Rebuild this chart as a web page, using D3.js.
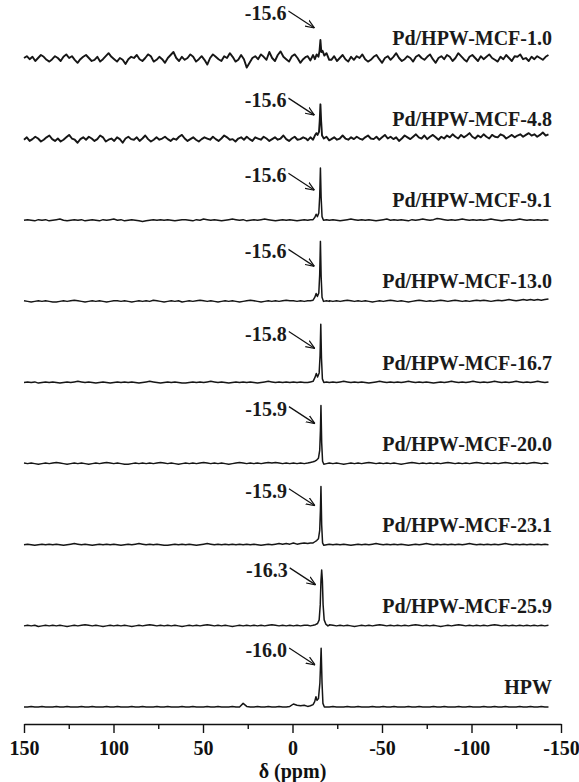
<!DOCTYPE html>
<html>
<head>
<meta charset="utf-8">
<script src="https://cdn.jsdelivr.net/npm/d3@7"></script>
<style>
  html, body { margin: 0; padding: 0; background: #fff; }
  svg { display: block; font-family: "Liberation Serif", "Times New Roman", serif; font-weight: bold; }
</style>
</head>
<body>
<svg id="chart" width="579" height="782"></svg>
<script>
// ---- data -------------------------------------------------------------
const sampleNames = [
  "Pd/HPW-MCF-1.0", "Pd/HPW-MCF-4.8", "Pd/HPW-MCF-9.1", "Pd/HPW-MCF-13.0",
  "Pd/HPW-MCF-16.7", "Pd/HPW-MCF-20.0", "Pd/HPW-MCF-23.1", "Pd/HPW-MCF-25.9", "HPW"
];
// chemical shift of the main 31P line of each sample (ppm)
const peakShifts = [-15.6, -15.6, -15.6, -15.6, -15.8, -15.9, -15.9, -16.3, -16.0];

const majorTicks = [150, 100, 50, 0, -50, -100, -150];
const minorTicks = [125, 75, 25, -25, -75, -125];

// baseline intensity (a.u.), sampled evenly from 150 to -143 ppm
const base1 = [0,3,-2,2,-5,0,5,2,-3,-6,-2,3,0,-5,2,6,0,3,-3,-8,
  -2,2,5,0,-5,-3,2,-6,-2,3,8,2,-2,-6,0,-3,-10,-2,2,0,
  5,-2,-5,0,6,3,-6,-3,2,-2,-8,0,5,10,0,-5,2,-3,0,6,
  2,-6,-2,3,-3,-11,0,6,2,-2,-5,3,0,8,2,-6,-3,5,-2,-16,
  -8,0,3,-2,6,2,-3,10,0,-5,5,11,2,-2,-6,3,6,0,-8,-2,
  2,5,-3,0,-10,-2,2,6,0,-3,3,-5,0,5,-2,-6,2,-3,3,0,
  6,-2,-6,-3,2,5,-2,-8,0,3,-3,2,8,0,-5,-2,3,0,-6,2,
  5,0,-3,2,6,-2,-8,0,3,-2,5,2,-5,0,8,3,-2,-6,2,5,
  0,-5,3,-2,2,6,0,-3,-6,2,-2,5,0,-5,3,2,6,-2,0,-5,
  2,-2,3,0,-3,2,5];
const base2 = [-1,3,-3,0,4,1,-4,-1,3,6,0,-3,1,-4,-1,3,7,1,-1,-6,
  0,3,-1,4,1,-3,0,6,3,-4,-1,1,-3,3,0,-6,1,4,0,-1,
  3,-3,1,6,0,-4,-1,3,-1,1,4,0,-3,1,-1,4,7,1,-3,0,
  3,-1,-4,0,3,1,-1,4,0,-3,1,6,3,-1,0,-4,1,3,-1,4,
  0,-3,3,1,-1,4,1,-3,0,3,-1,1,6,0,-3,1,4,-1,0,3,
  1,-1,4,7,3,0,-3,1,4,0,3,-1,1,6,1,-1,3,0,4,1,
  -1,3,6,1,0,4,-1,3,7,1,4,0,3,-3,1,6,3,0,4,8,
  3,1,6,0,4,7,3,-1,4,1,6,3,8,4,1,7,3,6,10,4,
  1,6,3,8,4,1,7,4,3,8,6,1,4,7,3,6,8,4,7,10,
  6,8,4,7,11,6,8];
const base3 = [0,1,0,-1,1,0,1,-1,0,1,2,0,-1,0,1,0,1,-1,0,1,
  0,-1,1,0,1,2,0,1,-1,0,1,0,-1,-2,-1,0,1,0,1,0,
  1,0,-1,0,1,1,0,-1,1,0,2,1,0,1,0,-1,0,1,2,1,
  0,1,-1,0,1,0,1,2,1,0,-1,0,1,0,1,0,-1,0,1,0,
  1,0,1,2,1,0,1,0,-1,0,1,2,1,0,1,0,1,0,-1,0,
  1,2,0,1,0,1,0,-1,1,0,1,2,1,0,1,3,2,1,0,1,
  0,1,2,1,0,1,0,1,0,1,2,1,0,-1,0,1,0,1,2,1,
  0,1,0,1,0,1,0];
const base4 = [1,0,-1,0,1,0,1,0,-1,-1,0,1,0,1,2,1,0,-1,0,1,
  0,1,0,-1,0,1,1,0,1,0,-1,0,1,0,1,0,2,1,0,-1,
  0,1,0,1,-1,0,1,0,1,2,1,0,1,0,-1,0,1,0,1,0,
  -1,0,1,2,1,0,-1,0,1,0,1,0,1,2,1,1,0,1,0,1,
  0,1,0,-1,0,1,0,1,0,1,2,1,0,1,0,1,0,-1,0,1,
  0,1,2,1,0,1,0,-1,0,1,2,1,0,1,0,1,2,1,0,1,
  2,1,0,1,0,1,2,1,2,1,0,1,2,1,2,3,2,1,2,3,
  2,3,2,3,2,3,4];
const base5 = [0,1,0,1,-1,0,1,0,1,0,-1,0,1,0,1,2,1,0,1,0,
  -1,0,1,0,-1,0,1,0,1,0,1,0,-1,0,1,2,1,0,-1,0,
  1,0,1,0,-1,-1,0,1,0,1,0,1,2,1,0,1,0,-1,0,1,
  0,1,0,1,0,-1,0,1,2,1,0,1,0,1,0,1,0,1,0,0,
  1,0,1,0,-1,0,1,0,1,2,1,0,1,0,1,0,-1,0,1,2,
  1,0,1,0,1,0,1,2,1,0,1,0,1,0,-1,0,1,0,1,2,
  1,0,1,0,1,2,1,0,1,0,1,2,1,0,1,0,1,2,1,0,
  1,0,1,2,1,0,1];
const base6 = [1,0,1,0,-1,0,1,0,1,2,1,0,-1,0,1,0,1,0,-1,0,
  1,0,1,2,1,0,1,0,-1,-1,0,1,0,1,0,1,0,1,2,1,
  0,1,0,-1,0,1,0,1,0,1,2,1,0,1,0,1,0,-1,0,1,
  2,1,0,1,0,1,0,1,2,1,2,1,0,1,0,1,0,1,0,1,
  0,1,0,1,2,1,0,1,0,-1,0,1,0,1,0,1,2,1,0,1,
  0,1,0,1,0,-1,0,1,2,1,0,1,0,1,0,1,0,1,2,1,
  0,1,0,1,0,1,2,1,0,1,0,1,0,1,2,1,0,1,0,1,
  0,1,2,1,0,1,0];
const base7 = [0,1,0,-1,0,1,0,1,0,1,0,-1,0,1,2,1,0,1,0,-1,
  0,1,0,1,0,1,0,-1,0,1,0,1,2,1,0,1,0,1,0,-1,
  -1,0,1,0,1,0,1,0,-1,0,1,2,1,0,1,0,1,0,1,0,
  1,0,1,0,1,0,-1,0,1,0,1,2,1,2,1,3,1,2,3,1,
  0,1,0,1,2,1,0,1,0,1,0,-1,0,1,0,1,0,1,2,1,
  0,1,0,1,0,1,0,-1,0,1,0,1,2,1,0,1,0,1,0,1,
  0,1,0,1,2,1,0,1,0,1,0,1,0,1,2,1,0,1,0,1,
  0,1,0,1,0,1,0];
const base8 = [0,1,0,1,-1,0,1,0,1,0,1,0,-1,0,1,0,1,2,1,0,
  1,0,-1,0,1,0,1,0,1,0,-1,0,1,0,1,2,1,0,1,0,
  1,0,1,0,-1,0,1,0,1,0,1,2,1,0,1,0,1,0,-1,0,
  1,0,1,0,1,0,1,0,1,2,1,0,1,0,1,0,1,0,1,0,
  1,0,1,0,1,2,1,0,1,0,1,0,-1,0,1,0,1,0,1,2,
  1,0,1,0,1,0,1,0,1,2,1,0,1,0,1,0,-1,0,1,0,
  1,2,1,0,1,0,1,0,1,0,1,2,1,0,1,0,1,0,1,0,
  1,0,1,0,1,0,1];
const base9 = [0,0,1,0,0,1,0,0,0,1,0,0,1,0,0,0,1,0,0,1,
  0,0,0,1,0,0,1,0,0,0,1,0,0,1,0,0,0,1,0,0,
  1,0,0,0,1,0,0,1,0,0,0,1,0,0,1,0,0,0,1,0,
  0,6,1,0,0,1,0,0,1,0,0,1,0,0,1,5,3,2,3,2,
  1,0,0,1,0,0,1,0,0,0,1,0,0,1,0,0,0,1,0,0,
  1,0,0,1,0,0,0,1,0,0,1,0,0,0,1,0,0,1,0,0,
  0,1,0,0,1,0,0,0,1,0,0,1,0,0,1,0,0,0,1,0,
  0,1,0,0,1,0,0];

// resonance region of each sample: [ppm, intensity]
const line1 = [[-8.5,3],[-10,-4],[-11.5,5],[-12.5,-2],[-13.5,6],[-14.5,2],[-15.1,12],[-15.6,30],[-16.1,10],[-16.8,12],[-17.8,4],[-19,8],[-20.5,-3]];
const line2 = [[-8.5,-2],[-10,3],[-11.5,-1],[-12.5,6],[-13.3,10],[-14,7],[-14.8,12],[-15.2,30],[-15.6,58],[-16,30],[-16.5,6],[-17.5,1],[-19,4],[-20.5,-2]];
const line3 = [[-8.5,0],[-10,1],[-11.5,1],[-12.5,5],[-13.2,10],[-13.9,6],[-14.7,12],[-15.2,40],[-15.6,87],[-16,38],[-16.5,6],[-17.3,0],[-19,1],[-20.5,0]];
const line4 = [[-8.5,1],[-10,1],[-11.5,2],[-12.5,7],[-13.2,13],[-13.9,8],[-14.7,14],[-15.2,45],[-15.6,100],[-16,42],[-16.5,7],[-17.3,0],[-19,1],[-20.5,0]];
const line5 = [[-8.5,0],[-10,1],[-11.5,2],[-12.5,8],[-13.3,15],[-14,9],[-14.9,16],[-15.4,45],[-15.8,97],[-16.2,40],[-16.7,6],[-17.5,0],[-19,1],[-20.5,0]];
const line6 = [[-8.5,1],[-10,2],[-11.5,3],[-12.5,4],[-13.5,6],[-14.5,9],[-15.2,22],[-15.6,55],[-15.9,97],[-16.3,35],[-16.8,4],[-17.5,-1],[-19,0],[-20.5,1]];
const line7 = [[-8.5,2],[-10,3],[-11.5,3],[-12.5,5],[-13.5,7],[-14.5,10],[-15.2,24],[-15.6,58],[-15.9,97],[-16.3,33],[-16.8,3],[-17.5,-1],[-19,0],[-20.5,1]];
const line8 = [[-8.5,1],[-10,0],[-11.5,1],[-12.8,2],[-14,4],[-14.9,10],[-15.5,35],[-15.9,75],[-16.3,93],[-16.7,75],[-17.1,35],[-17.7,10],[-18.6,3],[-19.8,0],[-20.5,1]];
const line9 = [[-8.5,1],[-10,2],[-11.5,4],[-12.4,9],[-13.1,17],[-13.7,11],[-14.5,14],[-15.3,40],[-16.0,98],[-16.5,40],[-17.0,6],[-17.8,0],[-19,0],[-20.5,0]];

const baselines = [base1, base2, base3, base4, base5, base6, base7, base8, base9];
const resonances = [line1, line2, line3, line4, line5, line6, line7, line8, line9];

// ---- layout ------------------------------------------------------------
const W = 579, H = 782;
const axisY = 724;
const calloutRise = [45, 39, 45, 50, 49, 55, 54, 56, 57];   // px above each trace

const svg = d3.select("#chart");
svg.append("rect").attr("width", W).attr("height", H).attr("fill", "#fff");

const x = d3.scaleLinear().domain([150, -150]).range([24, 561]);
const stackY = d3.scaleLinear().domain([0, sampleNames.length - 1]).range([58, 707]);
const amp = d3.scaleLinear().domain([0, 100]).range([0, -60]);

function spectrum(i) {
  const b = baselines[i], r = resonances[i];
  const grid = d3.scaleLinear().domain([0, b.length - 1]).range([150, -143]);
  const hi = r[0][0], lo = r[r.length - 1][0];
  const pts = b.map((v, j) => [grid(j), v]).filter(p => p[0] > hi || p[0] < lo);
  return pts.concat(r).sort((a, c) => c[0] - a[0]);
}

const line = d3.line().x(d => x(d[0])).y(d => amp(d[1]));

svg.append("defs").append("marker")
  .attr("id", "head")
  .attr("viewBox", "0 0 10 10")
  .attr("refX", 10).attr("refY", 5)
  .attr("markerWidth", 9).attr("markerHeight", 9)
  .attr("markerUnits", "userSpaceOnUse")
  .attr("orient", "auto")
  .append("path")
  .attr("d", "M0,1 L10,5 L0,9")
  .attr("fill", "none")
  .attr("stroke", "#111")
  .attr("stroke-width", 1.3);

sampleNames.forEach((name, i) => {
  const g = svg.append("g").attr("transform", `translate(0,${stackY(i)})`);

  g.append("path")
    .datum(spectrum(i))
    .attr("d", line)
    .attr("fill", "none")
    .attr("stroke", "#161616")
    .attr("stroke-width", i < 2 ? 1.9 : 1.5)
    .attr("stroke-linejoin", "round");

  g.append("text")
    .attr("x", 552)
    .attr("y", -13)
    .attr("text-anchor", "end")
    .attr("font-size", 20)
    .attr("fill", "#1a1a1a")
    .text(name);

  const px = x(peakShifts[i]);
  const cy = -calloutRise[i];
  g.append("text")
    .attr("x", px - 34)
    .attr("y", cy + 7)
    .attr("text-anchor", "end")
    .attr("font-size", 20)
    .attr("fill", "#1a1a1a")
    .text(peakShifts[i].toFixed(1));

  g.append("line")
    .attr("x1", px - 32).attr("y1", cy - 2)
    .attr("x2", px - 6).attr("y2", cy + 15)
    .attr("stroke", "#111")
    .attr("stroke-width", 1.2)
    .attr("marker-end", "url(#head)");
});

// ---- x axis -------------------------------------------------------------
const axisG = svg.append("g").attr("transform", `translate(0,${axisY})`);
axisG.call(d3.axisBottom(x).tickValues(majorTicks).tickFormat(d => String(d))
  .tickSize(9).tickSizeOuter(0).tickPadding(8));
const minorG = svg.append("g").attr("transform", `translate(0,${axisY})`);
minorG.call(d3.axisBottom(x).tickValues(minorTicks).tickFormat("").tickSize(5).tickSizeOuter(0));
minorG.select(".domain").remove();

svg.selectAll(".domain, .tick line").attr("stroke", "#111").attr("stroke-width", 1.4);
axisG.selectAll(".tick text")
  .attr("font-family", "Liberation Serif, Times New Roman, serif")
  .attr("font-weight", "bold")
  .attr("font-size", 20)
  .attr("fill", "#111");

svg.append("text")
  .attr("x", (x(150) + x(-150)) / 2)
  .attr("y", 778)
  .attr("text-anchor", "middle")
  .attr("font-size", 20)
  .attr("fill", "#111")
  .text("δ (ppm)");
</script>
</body>
</html>
